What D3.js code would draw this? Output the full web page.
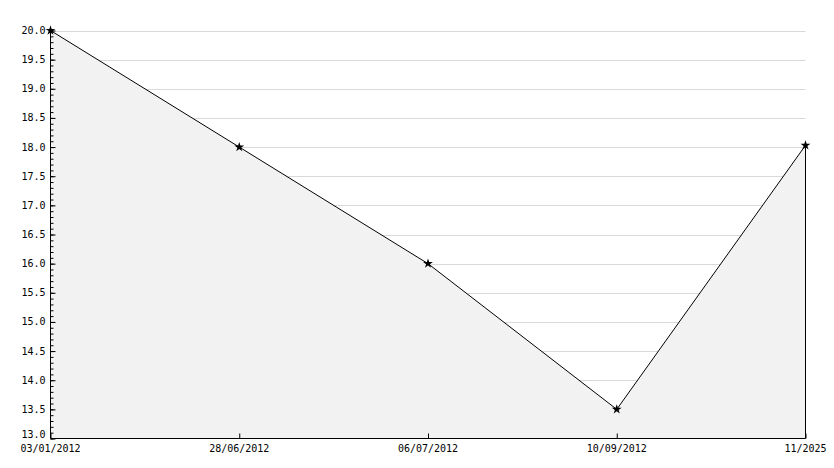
<!DOCTYPE html>
<meta charset="utf-8">
<style>
body { margin: 0; background: #fff; }
text { font-family: "DejaVu Sans Mono", monospace; font-size: 10px; fill: #000; }
</style>
<body>
<svg width="834" height="468"></svg>
<script src="https://d3js.org/d3.v7.min.js"></script>
<script>

var dates = ["03/01/2012", "28/06/2012", "06/07/2012", "10/09/2012", "11/2025"];
var values = [20.0, 18.0, 16.0, 13.5, 18.03];
var yMin = 13, yMax = 20;

var svg = d3.select("svg"),
    plotLeft = 50.5, plotRight = 805.5, plotTop = 30.5, plotBottom = 438.5;

var x = d3.scalePoint().domain(dates).range([plotLeft, plotRight]);
var y = d3.scaleLinear().domain([yMin, yMax]).range([plotBottom, plotTop]);

var data = dates.map(function(d, i) { return {date: d, value: values[i]}; });

// grid every 0.5
var majors = d3.range(yMin, yMax + 0.001, 0.5);
svg.append("g")
  .selectAll("line")
  .data(majors.filter(function(v) { return v > yMin; }))
  .enter().append("line")
    .attr("x1", plotLeft).attr("x2", plotRight)
    .attr("y1", function(d) { return Math.round(y(d)) + 0.5; })
    .attr("y2", function(d) { return Math.round(y(d)) + 0.5; })
    .attr("stroke", "#d9d9d9");

// filled area
var area = d3.area()
    .x(function(d) { return x(d.date); })
    .y0(plotBottom)
    .y1(function(d) { return y(d.value); });

svg.append("path")
    .datum(data)
    .attr("d", area)
    .attr("fill", "#f2f2f2");

// right edge of the area
svg.append("line")
    .attr("x1", plotRight).attr("x2", plotRight)
    .attr("y1", y(values[values.length - 1])).attr("y2", plotBottom)
    .attr("stroke", "#000");

// the line
var line = d3.line()
    .x(function(d) { return x(d.date); })
    .y(function(d) { return y(d.value); });

svg.append("path")
    .datum(data)
    .attr("d", line)
    .attr("fill", "none")
    .attr("stroke", "#000")
    .attr("stroke-width", 1);

// y axis ticks, pointing inside
svg.append("g")
    .attr("transform", "translate(" + plotLeft + ",0)")
    .call(d3.axisRight(y).tickValues(majors).tickSize(5).tickFormat(""))
    .call(function(g) { g.select(".domain").remove(); });

var minors = d3.range(yMin * 10, yMax * 10 + 1).map(function(v) { return v / 10; });
svg.append("g")
    .attr("transform", "translate(" + plotLeft + ",0)")
    .call(d3.axisRight(y).tickValues(minors).tickSize(3).tickFormat(""))
    .call(function(g) { g.select(".domain").remove(); });

svg.append("line")
    .attr("x1", plotLeft).attr("x2", plotLeft)
    .attr("y1", plotTop).attr("y2", plotBottom)
    .attr("stroke", "#000");

// y labels
svg.append("g")
  .selectAll("text")
  .data(majors)
  .enter().append("text")
    .attr("x", plotLeft - 5)
    .attr("y", function(d) { return y(d) + (d === yMin ? -1 : 3.5); })
    .attr("text-anchor", "end")
    .text(function(d) { return d.toFixed(1); });

// x axis
svg.append("g")
    .attr("transform", "translate(0," + plotBottom + ")")
    .call(d3.axisTop(x).tickSize(5).tickFormat(""))
    .call(function(g) { g.select(".domain").remove(); });

svg.append("line")
    .attr("x1", plotLeft).attr("x2", plotRight)
    .attr("y1", plotBottom).attr("y2", plotBottom)
    .attr("stroke", "#000");

svg.append("g")
  .selectAll("text")
  .data(dates)
  .enter().append("text")
    .attr("x", function(d) { return x(d); })
    .attr("y", plotBottom + 13)
    .attr("text-anchor", "middle")
    .text(function(d) { return d; });

// markers
svg.append("g")
  .selectAll("path")
  .data(data)
  .enter().append("path")
    .attr("transform", function(d) { return "translate(" + x(d.date) + "," + y(d.value) + ")"; })
    .attr("d", d3.symbol().type(d3.symbolStar).size(30))
    .attr("fill", "#000");

</script>
</body>
</html>
